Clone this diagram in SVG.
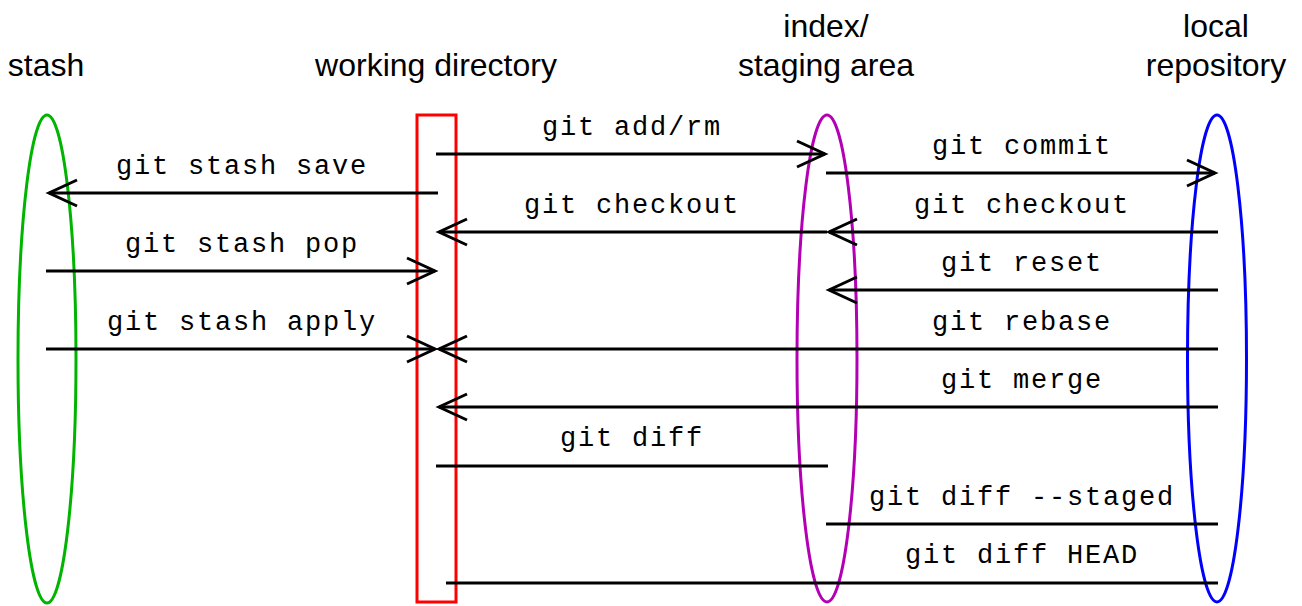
<svg xmlns="http://www.w3.org/2000/svg" width="1302" height="606" viewBox="0 0 1302 606">
<style>
.hdr{font-family:"Liberation Sans",Arial,sans-serif;font-size:32px;fill:#000;text-anchor:middle}
.cmd{font-family:"Liberation Mono","Courier New",monospace;font-size:27px;letter-spacing:1.8px;fill:#000;text-anchor:middle}
.ln{stroke:#000;stroke-width:3;fill:none}
.arr{marker-end:url(#ah)}
.node{fill:none;stroke-width:3}
</style>
<defs>
<marker id="ah" markerUnits="userSpaceOnUse" viewBox="-32 -16 36 32" refX="0" refY="0" markerWidth="36" markerHeight="32" orient="auto" overflow="visible">
<path d="M-28,-13 L0,0 L-28,13" fill="none" stroke="#000" stroke-width="3"/>
</marker>
</defs>
<rect width="1302" height="606" fill="#fff"/>
<g id="stash">
<ellipse class="node" cx="47" cy="359" rx="29" ry="244" stroke="#00b400"/>
<text class="hdr" x="46" y="76">stash</text>
</g>
<g id="working-directory">
<rect class="node" x="417" y="115" width="39" height="487" stroke="#ff0000"/>
<text class="hdr" x="436" y="76">working directory</text>
</g>
<g id="staging-area">
<ellipse class="node" cx="827" cy="358.5" rx="30" ry="243.5" stroke="#b400b4"/>
<text class="hdr" x="826" y="37">index/</text>
<text class="hdr" x="826" y="76">staging area</text>
</g>
<g id="local-repository">
<ellipse class="node" cx="1217" cy="358.5" rx="29.5" ry="243.5" stroke="#0000ff"/>
<text class="hdr" x="1216" y="37">local</text>
<text class="hdr" x="1216" y="76">repository</text>
</g>
<g id="connectors">
<line class="ln arr" x1="436" y1="154" x2="825" y2="154"/>
<line class="ln arr" x1="826" y1="173" x2="1215" y2="173"/>
<line class="ln arr" x1="438" y1="193" x2="49" y2="193"/>
<line class="ln arr" x1="827" y1="232" x2="439" y2="232"/>
<line class="ln arr" x1="1218" y1="232" x2="829" y2="232"/>
<line class="ln arr" x1="46" y1="271" x2="435" y2="271"/>
<line class="ln arr" x1="1218" y1="290" x2="829" y2="290"/>
<line class="ln arr" x1="46" y1="349" x2="435" y2="349"/>
<line class="ln arr" x1="1218" y1="349" x2="439" y2="349"/>
<line class="ln arr" x1="1218" y1="407" x2="439" y2="407"/>
<line class="ln" x1="436" y1="466" x2="828" y2="466"/>
<line class="ln" x1="826" y1="524" x2="1218" y2="524"/>
<line class="ln" x1="446" y1="583" x2="1218" y2="583"/>
<text class="cmd" x="632" y="135">git add/rm</text>
<text class="cmd" x="1022" y="154">git commit</text>
<text class="cmd" x="242" y="174">git stash save</text>
<text class="cmd" x="632" y="213">git checkout</text>
<text class="cmd" x="1022" y="213">git checkout</text>
<text class="cmd" x="242" y="252">git stash pop</text>
<text class="cmd" x="1022" y="271">git reset</text>
<text class="cmd" x="242" y="330">git stash apply</text>
<text class="cmd" x="1022" y="330">git rebase</text>
<text class="cmd" x="1022" y="388">git merge</text>
<text class="cmd" x="632" y="446">git diff</text>
<text class="cmd" x="1022" y="505">git diff --staged</text>
<text class="cmd" x="1022" y="563">git diff HEAD</text>
</g>
</svg>
